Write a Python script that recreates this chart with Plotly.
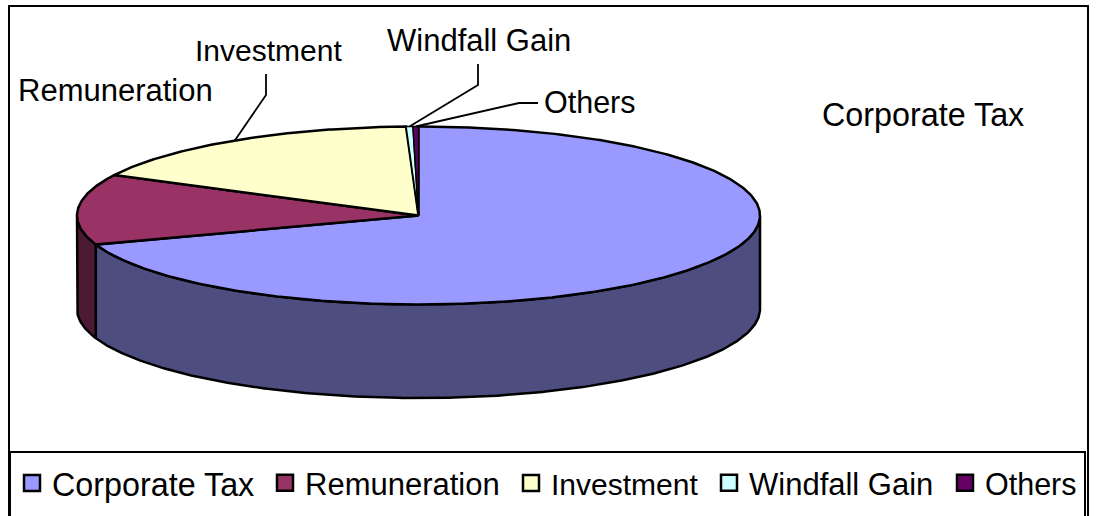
import numpy as np
import plotly.graph_objects as go

categories = ["Corporate Tax", "Remuneration", "Investment", "Windfall Gain", "Others"]
values = [69.7, 12.8, 16.92, 0.32, 0.26]
top_colors = ["#9999FF", "#993366", "#FFFFCC", "#CCFFFF", "#660066"]
side_colors = ["#4D4D80", "#4D1A33", "#808066", "#668080", "#330033"]

CX, CY, RX, RY, DEPTH = 418.5, 215.5, 341.5, 89.0, 93.5
FAMILY = "Liberation Sans, Arial, sans-serif"
OUTLINE = dict(color="black", width=2.5)

total = sum(values)
edges = np.concatenate([[0.0], np.cumsum(values)]) / total * 2 * np.pi


def arc(a, b):
    n = max(int(abs(b - a) / 0.01) + 2, 2)
    t = np.linspace(a, b, n)
    return CX + RX * np.sin(t), CY - RY * np.cos(t)


fig = go.Figure()

# Outer wall: only the front half (right, through bottom, to left) is visible
for i, name in enumerate(categories):
    a = max(edges[i], np.pi / 2)
    b = min(edges[i + 1], 3 * np.pi / 2)
    if b <= a:
        continue
    x, y = arc(a, b)
    fig.add_trace(go.Scatter(
        x=np.r_[x, x[::-1], x[0]], y=np.r_[y, y[::-1] + DEPTH, y[0]],
        mode="lines", fill="toself", fillcolor=side_colors[i],
        line=OUTLINE, showlegend=False, hoverinfo="skip"))

# Top face wedges
for i, name in enumerate(categories):
    x, y = arc(edges[i], edges[i + 1])
    width = 2.5 if values[i] > 1 else 1.5
    fig.add_trace(go.Scatter(
        x=np.r_[CX, x, CX], y=np.r_[CY, y, CY],
        mode="lines", fill="toself", fillcolor=top_colors[i],
        line=dict(color="black", width=width), showlegend=False,
        name=name, text=f"{name}: {values[i]:.1f}%", hoverinfo="text"))

# Leader lines from the slice rim to the labels
elbows = {2: [(266, 95), (266, 74)], 3: [(478, 85), (478, 64)], 4: [(519, 103), (538, 103)]}
for i, pts in elbows.items():
    m = (edges[i] + edges[i + 1]) / 2
    sx, sy = CX + RX * np.sin(m), CY - RY * np.cos(m)
    fig.add_trace(go.Scatter(
        x=[sx] + [p[0] for p in pts], y=[sy] + [p[1] for p in pts],
        mode="lines", line=dict(color="black", width=1.8),
        showlegend=False, hoverinfo="skip"))

# Legend entries: one small legend per entry so each can sit at its own spot
legend_left = [12, 265, 511, 709, 945]
legend_font = [32.3, 31, 30, 31, 30.5]
legend_layout = {}
for i, name in enumerate(categories):
    key = "legend" if i == 0 else f"legend{i + 1}"
    fig.add_trace(go.Scatter(
        x=[None], y=[None], mode="markers", name=name, legend=key,
        marker=dict(symbol="square", size=19, color=top_colors[i],
                    line=dict(color="black", width=2.5))))
    legend_layout[key] = dict(
        orientation="h", x=legend_left[i] / 1096, xanchor="left",
        y=(516 - 483) / 516, yanchor="middle",
        font=dict(family=FAMILY, size=legend_font[i], color="black"),
        bgcolor="rgba(0,0,0,0)", itemwidth=30)

labels = [("Remuneration", 115, 90, 31), ("Investment", 268, 50, 30),
          ("Windfall Gain", 478.5, 40, 31), ("Others", 590, 102, 30.5),
          ("Corporate Tax", 923, 115, 32.3)]
annotations = [dict(x=x, y=y, text=t, showarrow=False, xref="x", yref="y",
                    xanchor="center", yanchor="middle",
                    font=dict(family=FAMILY, size=s, color="black")) for t, x, y, s in labels]

shapes = [
    dict(type="rect", x0=9, y0=6, x1=1088, y1=530, line=dict(color="black", width=2), layer="below"),
    dict(type="rect", x0=10, y0=452, x1=1085, y1=530, line=dict(color="black", width=2), layer="below"),
]

fig.update_layout(
    width=1096, height=516, autosize=False,
    margin=dict(l=0, r=0, t=0, b=0),
    paper_bgcolor="white", plot_bgcolor="white",
    xaxis=dict(range=[0, 1096], visible=False, fixedrange=True),
    yaxis=dict(range=[516, 0], visible=False, fixedrange=True),
    annotations=annotations, shapes=shapes,
    showlegend=True,
    **legend_layout,
)

fig.write_html("out.html", config=dict(displayModeBar=False),
               post_script="document.body.style.margin='0';document.documentElement.style.overflow='hidden';")
